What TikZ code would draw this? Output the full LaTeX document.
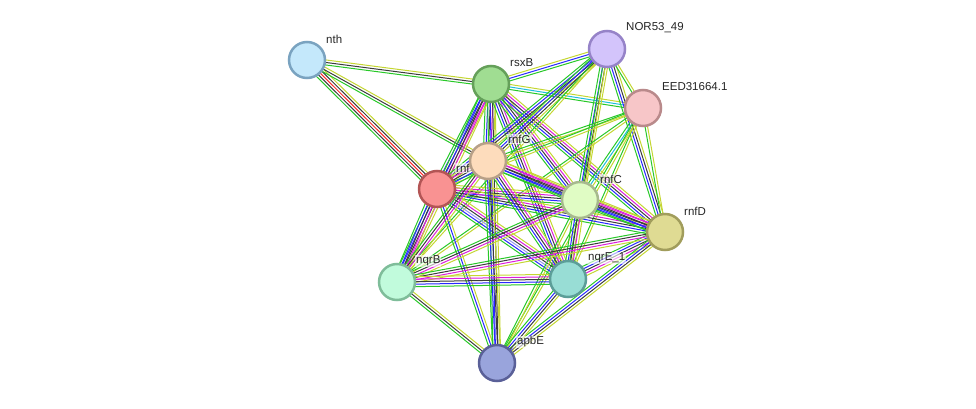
\documentclass[tikz,border=0pt]{standalone}
\usepackage{fontspec}
\setmainfont{Liberation Sans}
\usetikzlibrary{calc,backgrounds}
\definecolor{sG}{RGB}{40,200,40}
\definecolor{sY}{RGB}{196,214,50}
\definecolor{sK}{RGB}{60,60,60}
\definecolor{sB}{RGB}{40,40,255}
\definecolor{sM}{RGB}{220,30,220}
\definecolor{sR}{RGB}{255,40,40}
\definecolor{sC}{RGB}{30,190,220}
\definecolor{sL}{RGB}{150,150,240}
\newcommand\bundle[3]{%
  \foreach \cc [count=\ii] in {#3} {\xdef\bnum{\ii}}
  \foreach \cc [count=\ii] in {#3} {
    \pgfmathsetmacro\off{(\ii-(\bnum+1)/2)*2.5}
    \draw[edge, color=\cc] ($(#1.center)!\off pt!90:(#2.center)$) -- ($(#2.center)!\off pt!-90:(#1.center)$);
  }
}
\tikzset{
  prot/.style={circle, draw, line width=2.5pt, minimum size=36pt, inner sep=0pt},
  lab/.style={anchor=west, font=\fontsize{11.5}{13}\selectfont, text=black!85, fill=white, fill opacity=0.6, text opacity=1, inner sep=1pt},
  edge/.style={line width=1pt}
}
\begin{document}
\begin{tikzpicture}[x=1pt,y=-1pt]
\useasboundingbox (0,0) rectangle (976,409);
\node[prot, fill={rgb,255:red,196;green,232;blue,251}, draw={rgb,255:red,122;green,163;blue,192}] (nth) at (307,60) {};
\node[lab] (nthL) at ($(nth.center)+(18,-21)$) {nth};
\node[prot, fill={rgb,255:red,160;green,221;blue,146}, draw={rgb,255:red,101;green,160;blue,90}] (rsxB) at (491,84) {};
\node[lab] (rsxBL) at ($(rsxB.center)+(18,-21)$) {rsxB};
\node[prot, fill={rgb,255:red,211;green,196;blue,251}, draw={rgb,255:red,150;green,131;blue,200}] (nor) at (607,49) {};
\node[lab] (norL) at ($(nor.center)+(18,-21)$) {NOR53\_49};
\node[prot, fill={rgb,255:red,247;green,198;blue,200}, draw={rgb,255:red,185;green,138;blue,139}] (eed) at (643,108) {};
\node[lab] (eedL) at ($(eed.center)+(18,-21)$) {EED31664.1};
\node[prot, fill={rgb,255:red,249;green,146;blue,146}, draw={rgb,255:red,179;green,85;blue,85}] (rnfA) at (437,189) {};
\node[lab] (rnfAL) at ($(rnfA.center)+(18,-21)$) {rnf};
\node[prot, fill={rgb,255:red,253;green,220;blue,188}, draw={rgb,255:red,183;green,160;blue,136}] (rnfG) at (488,161) {};
\node[lab] (rnfGL) at ($(rnfG.center)+(19,-22)$) {rnfG};
\node[prot, fill={rgb,255:red,224;green,252;blue,196}, draw={rgb,255:red,167;green,185;blue,142}] (rnfC) at (580,200) {};
\node[lab] (rnfCL) at ($(rnfC.center)+(19,-21)$) {rnfC};
\node[prot, fill={rgb,255:red,223;green,219;blue,147}, draw={rgb,255:red,161;green,157;blue,92}] (rnfD) at (665,232) {};
\node[lab] (rnfDL) at ($(rnfD.center)+(18,-21)$) {rnfD};
\node[prot, fill={rgb,255:red,193;green,251;blue,220}, draw={rgb,255:red,127;green,189;blue,154}] (nqrB) at (397,282) {};
\node[lab] (nqrBL) at ($(nqrB.center)+(18,-21)$) {nqrB};
\node[prot, fill={rgb,255:red,152;green,221;blue,213}, draw={rgb,255:red,92;green,158;blue,152}] (nqrE) at (568,279) {};
\node[lab] (nqrEL) at ($(nqrE.center)+(19,-21)$) {nqrE\_1};
\node[prot, fill={rgb,255:red,153;green,164;blue,220}, draw={rgb,255:red,90;green,96;blue,152}] (apbE) at (497,363) {};
\node[lab] (apbEL) at ($(apbE.center)+(19,-21)$) {apbE};
\begin{pgfonlayer}{background}
\bundle{nth}{rsxB}{sG,sK,sY}
\bundle{nth}{rnfA}{sG,sK,sR,sK,sY}
\bundle{nth}{rnfG}{sG,sK,sY}
\bundle{rsxB}{nor}{sG,sB,sY}
\bundle{rsxB}{eed}{sG,sC,sY}
\bundle{rsxB}{rnfA}{sG,sB,sK,sM,sY}
\bundle{rsxB}{rnfG}{sG,sB,sK,sM,sY}
\bundle{rsxB}{nqrB}{sG,sB,sK,sM,sY}
\bundle{rsxB}{apbE}{sG,sB,sK,sY}
\bundle{rsxB}{nqrE}{sG,sB,sK,sM,sY}
\bundle{rsxB}{rnfC}{sG,sB,sK,sM,sY}
\bundle{rsxB}{rnfD}{sG,sB,sK,sM,sY}
\bundle{nor}{rnfA}{sG,sB,sK,sY}
\bundle{nor}{rnfG}{sG,sB,sK,sY}
\bundle{nor}{rnfC}{sG,sB,sK,sY}
\bundle{nor}{rnfD}{sG,sB,sK,sY}
\bundle{nor}{nqrE}{sG,sY}
\bundle{nor}{eed}{sG,sY}
\bundle{nor}{nqrB}{sG,sY}
\bundle{eed}{rnfG}{sG,sY}
\bundle{eed}{rnfA}{sG,sY}
\bundle{eed}{rnfC}{sG,sC,sY}
\bundle{eed}{rnfD}{sG,sY}
\bundle{eed}{nqrE}{sG,sY}
\bundle{eed}{nqrB}{sG,sY}
\bundle{eed}{apbE}{sG,sY}
\bundle{rnfA}{rnfG}{sG,sB,sK,sM,sY}
\bundle{rnfA}{rnfC}{sG,sB,sK,sM,sY}
\bundle{rnfA}{rnfD}{sG,sB,sK,sM,sY}
\bundle{rnfA}{nqrB}{sG,sB,sK,sM,sY}
\bundle{rnfA}{nqrE}{sG,sB,sL,sK,sM,sY}
\bundle{rnfA}{apbE}{sG,sB,sY}
\bundle{rnfG}{rnfC}{sG,sB,sK,sM,sY}
\bundle{rnfG}{rnfD}{sG,sB,sK,sM,sY}
\bundle{rnfG}{nqrB}{sG,sK,sM,sY}
\bundle{rnfG}{nqrE}{sG,sB,sK,sM,sY}
\bundle{rnfG}{apbE}{sG,sB,sK,sY}
\bundle{rnfC}{rnfD}{sG,sB,sK,sM,sY}
\bundle{rnfC}{nqrB}{sG,sK,sM,sY}
\bundle{rnfC}{nqrE}{sG,sB,sK,sM,sY}
\bundle{rnfC}{apbE}{sG,sY}
\bundle{rnfD}{nqrE}{sG,sB,sK,sM,sY}
\bundle{rnfD}{nqrB}{sG,sK,sM,sY}
\bundle{rnfD}{apbE}{sG,sB,sK,sY}
\bundle{nqrB}{nqrE}{sG,sB,sK,sM,sY}
\bundle{nqrB}{apbE}{sG,sK,sY}
\bundle{nqrE}{apbE}{sG,sB,sK,sY}
\end{pgfonlayer}
\end{tikzpicture}
\end{document}
